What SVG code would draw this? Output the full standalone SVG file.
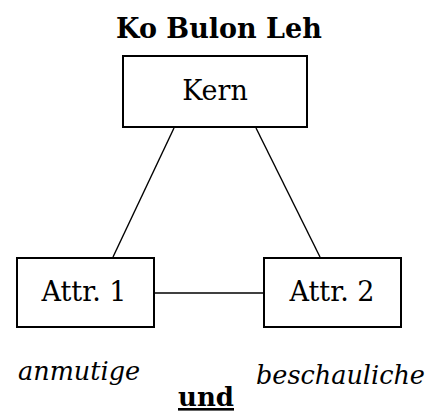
<svg xmlns="http://www.w3.org/2000/svg" width="425" height="415" viewBox="0 0 425 415">
  <style>
    .box { fill: #ffffff; stroke: #000000; stroke-width: 2; }
    .link { stroke: #000000; stroke-width: 1.4; fill: none; }
    text { font-family: "DejaVu Serif", "Liberation Serif", serif; fill: #000000; }
    .label { font-size: 27px; text-anchor: middle; }
    .title { font-size: 27px; font-weight: bold; text-anchor: middle; }
    .note { font-size: 25.5px; font-style: italic; }
    .und { font-size: 26px; font-weight: bold; text-anchor: middle; text-decoration: underline; }
  </style>
  <rect width="425" height="415" fill="#ffffff"/>

  <text class="title" x="219" y="38">Ko Bulon Leh</text>

  <!-- connectors between the three nodes -->
  <g id="connectors">
    <line class="link" x1="174" y1="128" x2="113" y2="257"/>
    <line class="link" x1="256" y1="128" x2="320" y2="257"/>
    <line class="link" x1="155" y1="293" x2="263" y2="293"/>
  </g>

  <g id="kern">
    <rect class="box" x="123" y="56" width="184" height="71"/>
    <text class="label" x="215" y="100">Kern</text>
  </g>

  <g id="attr1">
    <rect class="box" x="17" y="258" width="137" height="69"/>
    <text class="label" x="84" y="301">Attr. 1</text>
  </g>

  <g id="attr2">
    <rect class="box" x="264" y="258" width="137" height="69"/>
    <text class="label" x="332" y="301">Attr. 2</text>
  </g>

  <text class="note" x="18" y="380">anmutige</text>
  <text class="note" x="256" y="384">beschauliche</text>
  <text class="und" x="206" y="406">und</text>
</svg>
